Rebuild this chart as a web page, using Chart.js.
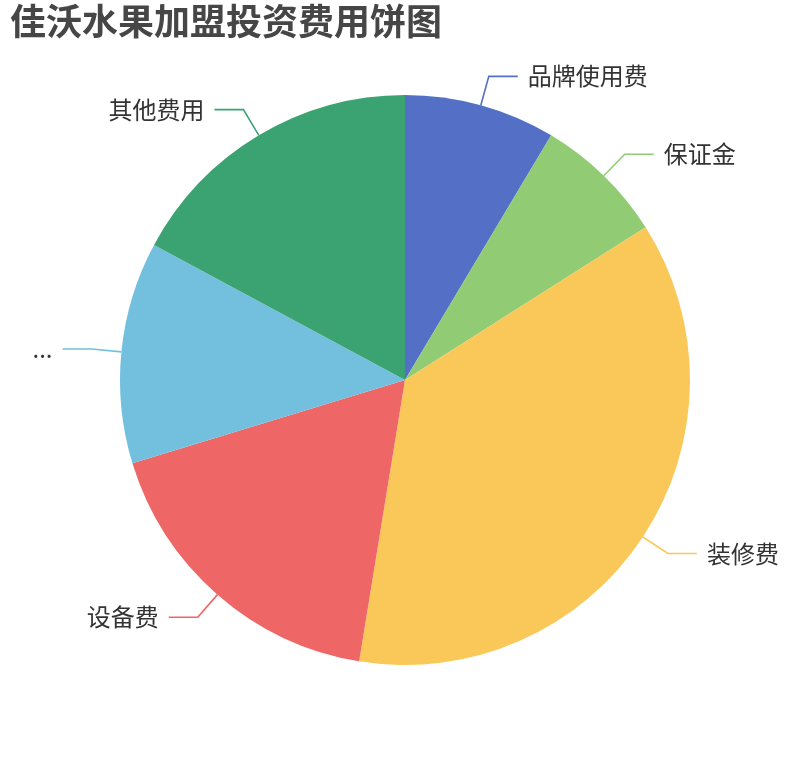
<!DOCTYPE html>
<html>
<head>
<meta charset="utf-8">
<script src="https://cdn.jsdelivr.net/npm/chart.js@4.4.1/dist/chart.umd.min.js"></script>
<style>
  html, body { margin: 0; padding: 0; background: #fff; }
  #wrap { position: relative; width: 810px; height: 760px; }
</style>
</head>
<body>
<div id="wrap"><canvas id="pie"></canvas></div>
<script>
/* ===== DATA ===== */

const titleText = "佳沃水果加盟投资费用饼图";
const categories = ["品牌使用费", "保证金", "装修费", "设备费", "...", "其他费用"];
const costs = [1.5, 1.3, 6.4, 3.1, 2.2, 3.0];
const colors = ["#5470c6", "#91cc75", "#fac858", "#ee6666", "#73c0de", "#3ba272"];

const FONT = "'Noto Sans CJK SC', 'Noto Sans', sans-serif";

/* ===== LABELS ===== */

const pieLabels = {
  id: "pieLabels",
  afterDraw(chart) {
    const ctx = chart.ctx;
    const arcs = chart.getDatasetMeta(0).data;

    ctx.save();
    arcs.forEach((arc, i) => {
      const p = arc.getProps(["x", "y", "startAngle", "endAngle", "outerRadius"], true);
      const mid = (p.startAngle + p.endAngle) / 2;
      const cos = Math.cos(mid), sin = Math.sin(mid);
      const x0 = p.x + cos * p.outerRadius;
      const y0 = p.y + sin * p.outerRadius;
      const x1 = p.x + cos * (p.outerRadius + 30);
      const y1 = p.y + sin * (p.outerRadius + 30);
      const right = cos >= 0;
      const x2 = x1 + (right ? 29 : -29);

      ctx.strokeStyle = colors[i];
      ctx.lineWidth = 1.6;
      ctx.beginPath();
      ctx.moveTo(x0, y0);
      ctx.lineTo(x1, y1);
      ctx.lineTo(x2, y1);
      ctx.stroke();

      ctx.fillStyle = "#333";
      ctx.font = "24px " + FONT;
      ctx.textBaseline = "middle";
      ctx.textAlign = right ? "left" : "right";
      ctx.fillText(categories[i], x2 + (right ? 10 : -10), y1);
    });

    ctx.fillStyle = "#464646";
    ctx.font = "bold 36px " + FONT;
    ctx.textAlign = "left";
    ctx.textBaseline = "top";
    ctx.fillText(titleText, 10, 3);
    ctx.restore();
  }
};

/* ===== CHART ===== */

new Chart(document.getElementById("pie"), {
  type: "pie",
  data: {
    labels: categories,
    datasets: [{
      data: costs,
      backgroundColor: colors,
      borderWidth: 0
    }]
  },
  options: {
    responsive: true,
    maintainAspectRatio: false,
    animation: false,
    layout: { padding: { top: 95, bottom: 95, left: 120, right: 120 } },
    plugins: {
      legend: { display: false },
      tooltip: { enabled: false }
    }
  },
  plugins: [pieLabels]
});
</script>
</body>
</html>
